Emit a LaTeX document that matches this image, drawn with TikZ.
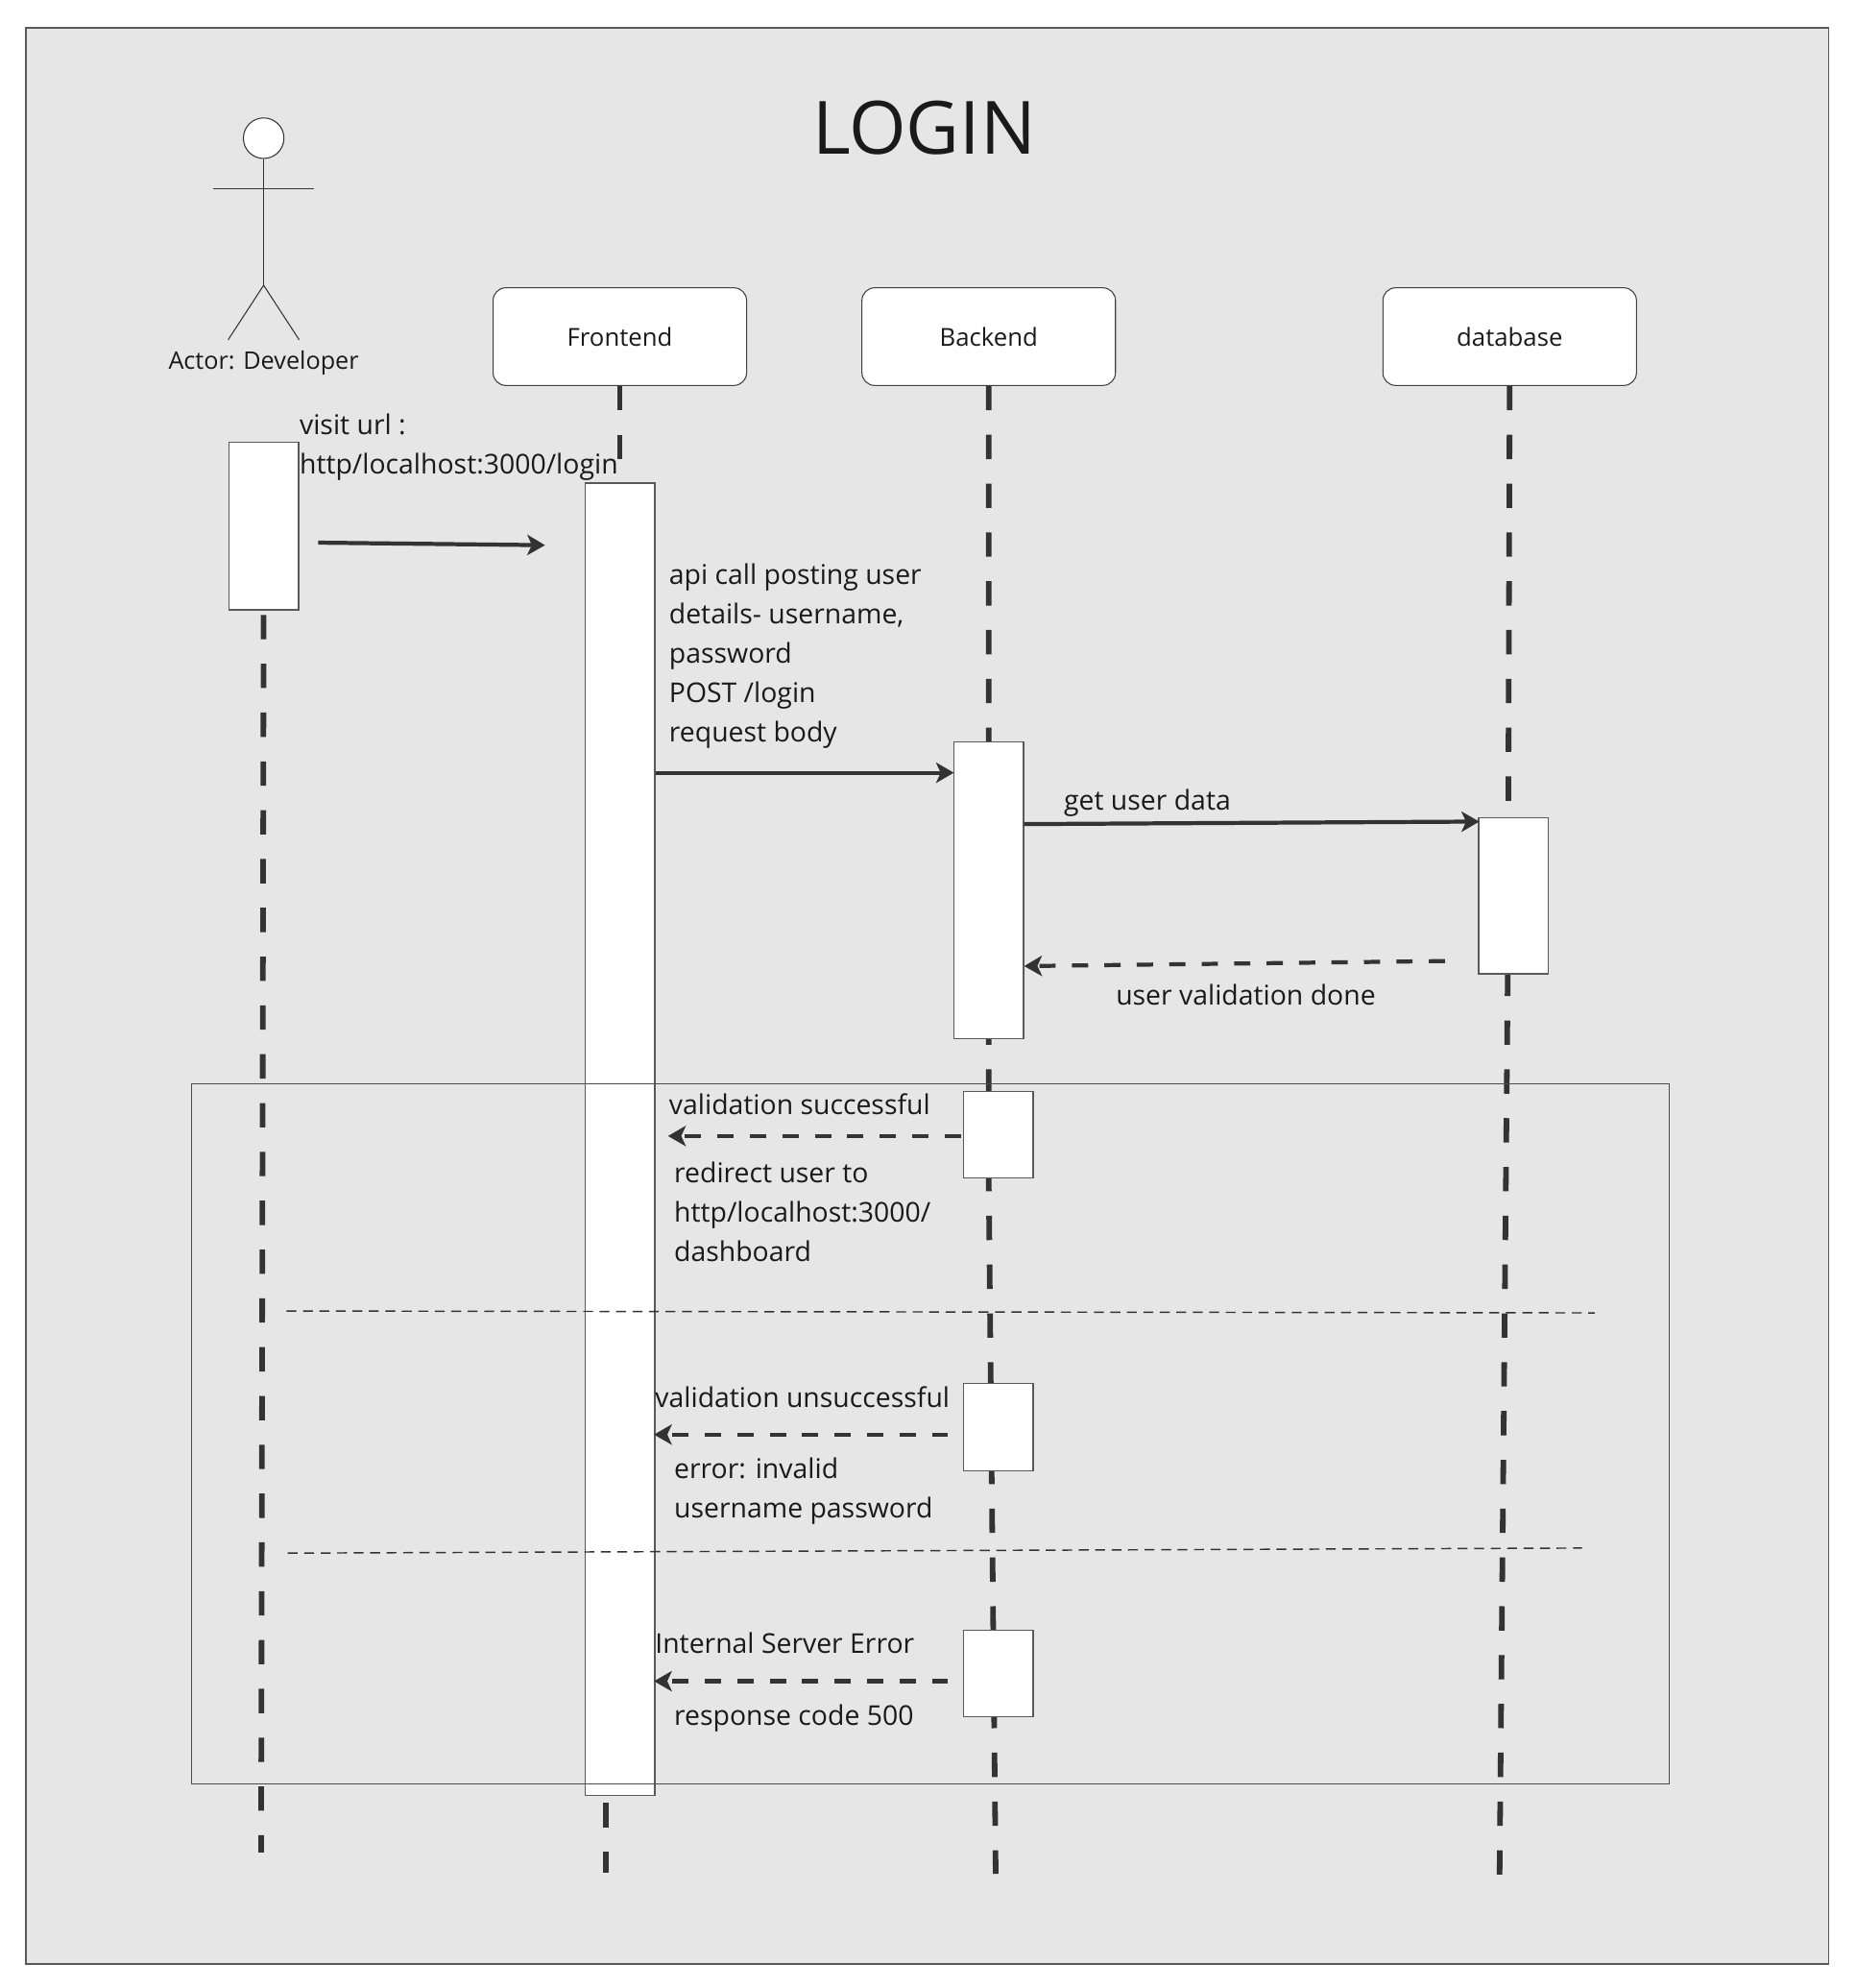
\documentclass[tikz,border=0pt]{standalone}
\usepackage{fontspec}
\setmainfont{Open Sans}
\usepackage{tikz}
\usetikzlibrary{arrows.meta,backgrounds}

\definecolor{sheetgrey}{HTML}{E6E6E6}
\definecolor{inkdark}{HTML}{1A1A1A}
\definecolor{wiredark}{HTML}{333333}

\tikzset{
	rolebox/.style={draw=black!75, fill=white, rounded corners=5pt, line width=0.4pt, minimum width=100pt, minimum height=38.5pt, inner sep=0pt, font=\fontsize{9.75}{12}\selectfont, text=inkdark},
	actbar/.style={draw=black!65, fill=white, line width=0.5pt, minimum width=27.5pt, inner sep=0pt},
	lifeline/.style={color=wiredark, line width=2.2pt, dash pattern=on 9.6pt off 9.65pt},
	msgsolid/.style={color=wiredark, line width=1.6pt, -{Stealth[length=7pt,width=8pt,inset=1.8pt]}},
	msgdash/.style={msgsolid, dash pattern=on 6.4pt off 6.4pt},
	partline/.style={color=wiredark, line width=0.55pt, dash pattern=on 3.9pt off 2.6pt},
	msgtext/.style={anchor=west, inner sep=0pt, align=left, text=inkdark, font=\fontsize{10.75}{15.5}\selectfont},
}

\begin{document}
\begin{tikzpicture}[x=0.5pt,y=-0.5pt]
	\useasboundingbox (0,0) rectangle (1463.5,1568);

	% Lifeline boxes
	\node[rolebox] (frontendBox) at (489,265.5) {Frontend};
	\node[rolebox] (backendBox) at (780,265.5) {Backend};
	\node[rolebox] (databaseBox) at (1191,265.5) {database};

	% Activation bars
	\node[actbar, minimum height=66pt] (actorBar) at (208,415) {};
	\node[actbar, minimum height=517.5pt] (frontendBar) at (489,898.5) {};
	\node[actbar, minimum height=117pt] (backendBar) at (780,702) {};
	\node[actbar, minimum height=61.5pt] (databaseBar) at (1194,706.5) {};
	\node[actbar, minimum height=34pt] (okBar) at (787.5,895) {};
	\node[actbar, minimum height=34.5pt] (failBar) at (787.5,1125.5) {};
	\node[actbar, minimum height=34pt] (errorBar) at (787.5,1320) {};

	% Actor
	\node[circle, draw=black!80, fill=white, line width=0.4pt, minimum size=16pt, inner sep=0pt] (actorHead) at (208,109) {};
	\coordinate (actorHip) at (208,225);
	\coordinate (armLeft) at (168,149);
	\coordinate (armRight) at (248,149);
	\coordinate (legLeft) at (180,268);
	\coordinate (legRight) at (236,268);
	\draw[color=black!80, line width=0.4pt] (actorHead.south) -- (actorHip);
	\draw[color=black!80, line width=0.4pt] (armLeft) -- (armRight);
	\draw[color=black!80, line width=0.4pt] (legLeft) -- (actorHip) -- (legRight);
	\node[anchor=center, inner sep=0pt, text=inkdark, font=\fontsize{9.55}{12}\selectfont] (actorLabel) at (208,286) {Actor: Developer};

	\node[inner sep=0pt, text=inkdark, font=\fontsize{29}{36}\selectfont] (title) at (729,100.5) {LOGIN};

	% Free ends
	\coordinate (actorEnd) at (206,1461);
	\coordinate (frontendEnd) at (478,1477);
	\coordinate (frontendLow) at (478,1416);
	\coordinate (backendMid) at (780,930);
	\coordinate (backendEnd) at (785.5,1478);
	\coordinate (databaseMid) at (1189.5,768);
	\coordinate (databaseEnd) at (1183,1481);

	% Sheet and lifelines go underneath
	\begin{scope}[on background layer]
		\draw[draw=black!65, fill=sheetgrey, line width=0.5pt] (20.5,22) rectangle (1442.5,1549);
		\draw[lifeline, dash phase=17.5pt] (actorBar.south) -- (actorEnd);
		\draw[lifeline] (frontendBox.south) -- (frontendBar.north);
		\draw[lifeline, dash phase=16.25pt] (frontendLow) -- (frontendEnd);
		\draw[lifeline] (backendBox.south) -- (backendMid) -- (backendEnd);
		\draw[lifeline] (databaseBox.south) -- (databaseMid) -- (databaseEnd);
	\end{scope}

	% Frame of the alternatives
	\node[draw=black!70, line width=0.4pt, minimum width=583pt, minimum height=276.25pt, inner sep=0pt] (altFrame) at (734,1130.75) {};
	\coordinate (partOneA) at (226,1034);
	\coordinate (partOneB) at (1258,1035.5);
	\coordinate (partTwoA) at (227,1225);
	\coordinate (partTwoB) at (1248,1221);
	\draw[partline] (partOneA) -- (partOneB);
	\draw[partline] (partTwoA) -- (partTwoB);

	% Messages
	\coordinate (visitStart) at (251,428);
	\coordinate (visitEnd) at (430,430);
	\coordinate (postStart) at (517,609.5);
	\coordinate (postEnd) at (752.5,609.5);
	\coordinate (getStart) at (808,650);
	\coordinate (getEnd) at (1167,648);
	\coordinate (doneStart) at (1140,758);
	\coordinate (doneEnd) at (808,762);
	\coordinate (okStart) at (758,896);
	\coordinate (okEnd) at (527,896);
	\coordinate (failStart) at (748,1131.5);
	\coordinate (failEnd) at (516,1131.5);
	\coordinate (errorStart) at (748,1326);
	\coordinate (errorEnd) at (516,1326);
	\draw[msgsolid] (visitStart) -- (visitEnd);
	\draw[msgsolid] (postStart) -- (postEnd);
	\draw[msgsolid] (getStart) -- (getEnd);
	\draw[msgdash] (doneStart) -- (doneEnd);
	\draw[msgdash] (okStart) -- (okEnd);
	\draw[msgdash] (failStart) -- (failEnd);
	\draw[msgdash] (errorStart) -- (errorEnd);

	% Message labels
	\node[msgtext] (visitText) at (236,352.5) {visit url :\\http/localhost:3000/login};
	\node[msgtext] (postText) at (527.5,517.5) {api call posting user\\details- username,\\password\\POST /login\\request body};
	\node[msgtext] (getText) at (839,633) {get user data};
	\node[msgtext] (doneText) at (880,785) {user validation done};
	\node[msgtext] (okText) at (527.5,871) {validation successful};
	\node[msgtext] (redirectText) at (531.5,956) {redirect user to\\http/localhost:3000/\\dashboard};
	\node[msgtext] (failText) at (516.5,1102) {validation unsuccessful};
	\node[msgtext] (invalidText) at (531.5,1176) {error: invalid\\username password};
	\node[msgtext] (errorText) at (516.5,1296) {Internal Server Error};
	\node[msgtext] (codeText) at (531.5,1355) {response code 500};
\end{tikzpicture}
\end{document}
